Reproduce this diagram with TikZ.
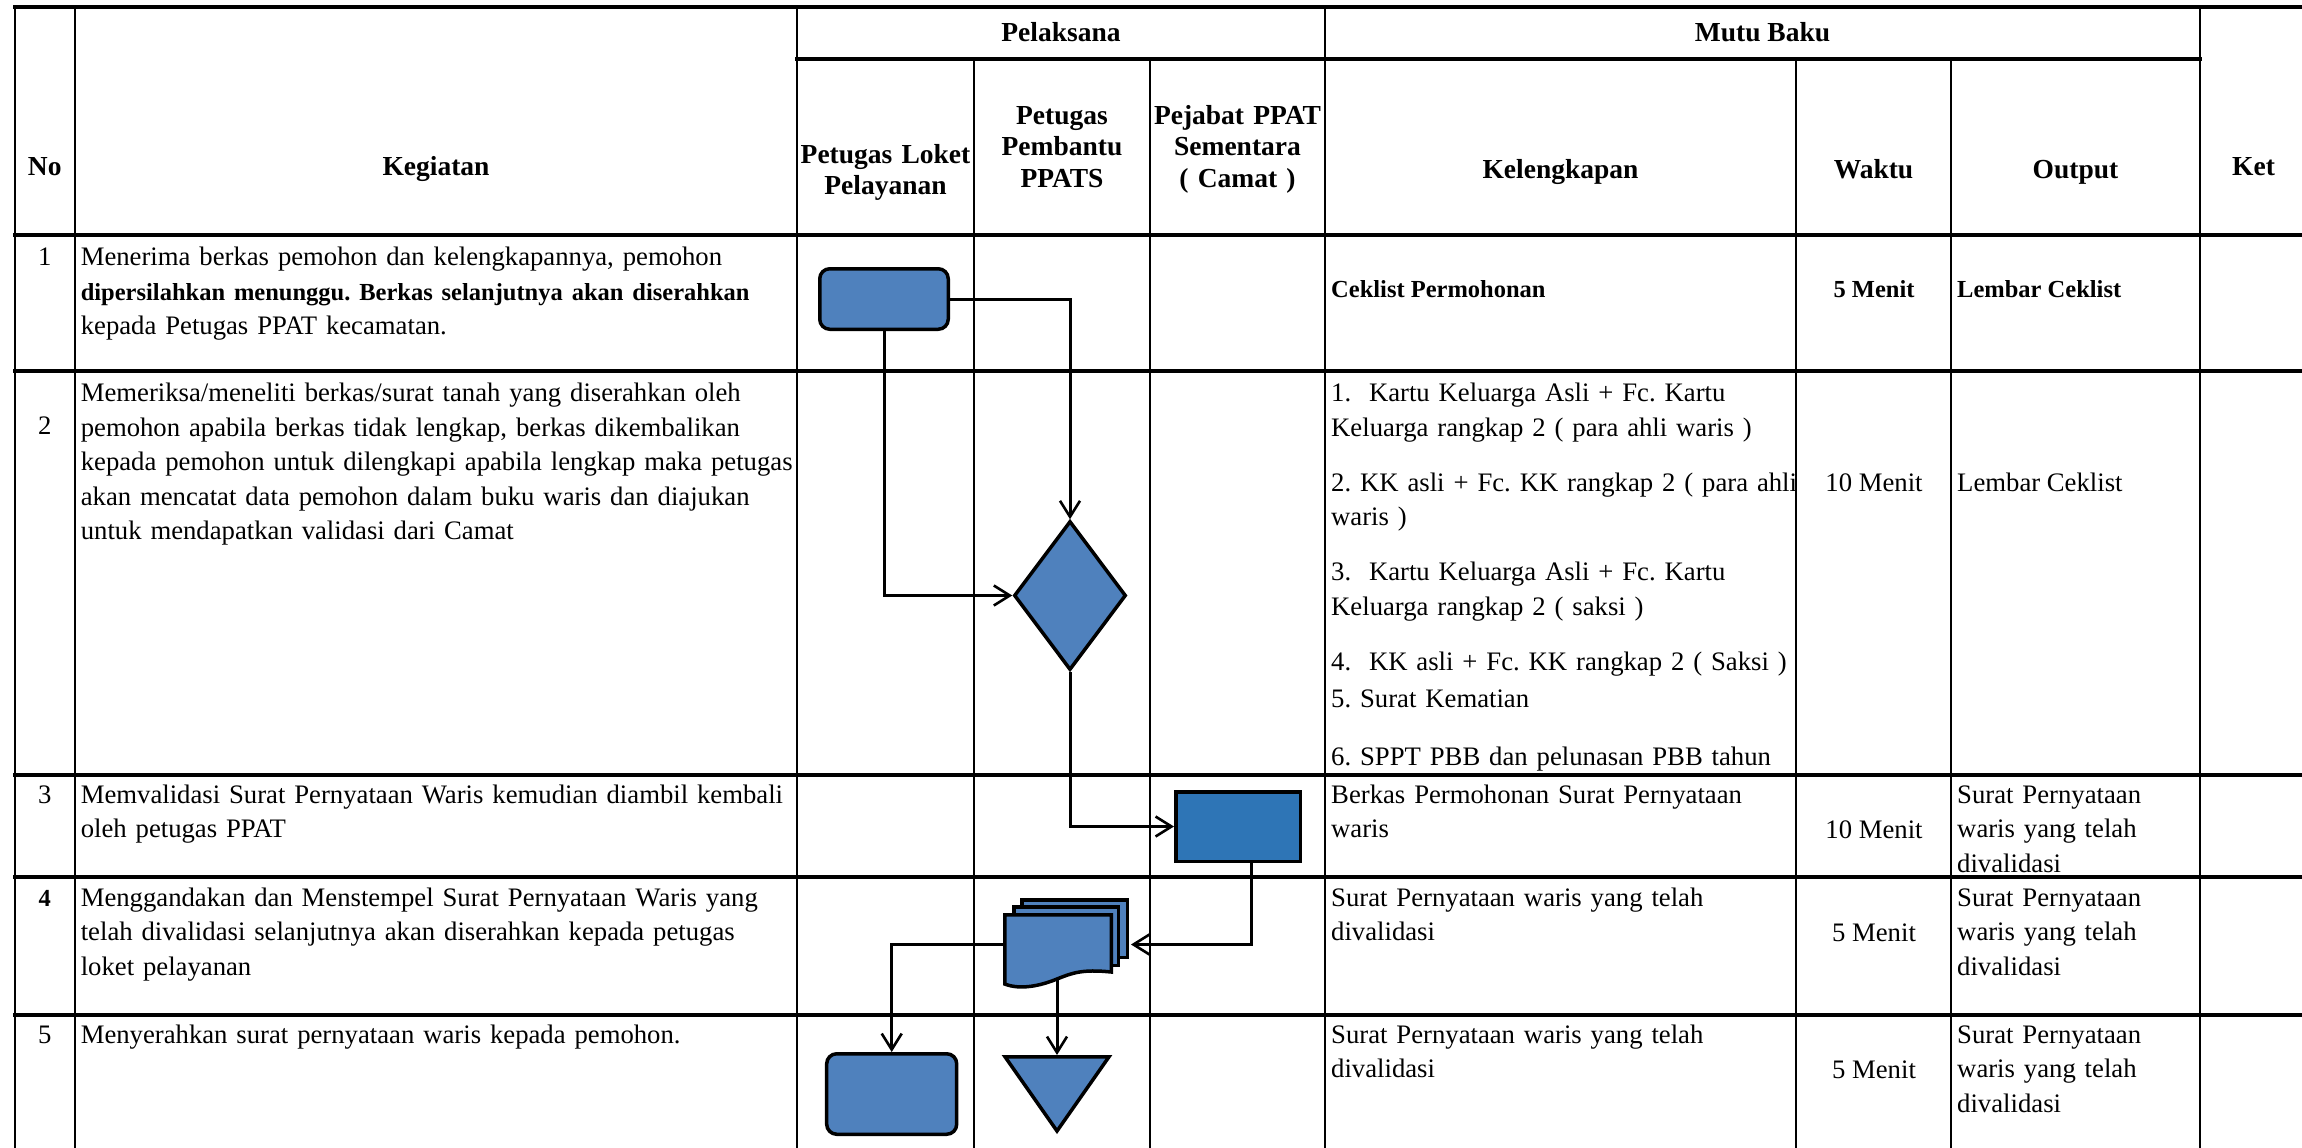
\documentclass[tikz,border=0pt]{standalone}
\usepackage{fontspec}
\setmainfont{Liberation Serif}
\usetikzlibrary{arrows.meta,shapes.geometric}

\definecolor{shapeblue}{HTML}{4F81BD}
\definecolor{procblue}{HTML}{2E75B6}

\newcommand\bfb{\fontsize{24.5}{34.5}\selectfont\bfseries}
\newcommand\rgb{\fontsize{26.7}{34.5}\selectfont}

\begin{document}
\begin{tikzpicture}[x=1pt,y=-1pt,
  hline/.style={line width=3.3pt, line cap=rect},
  vline/.style={line width=2.1pt, line cap=rect},
  cell/.style={inner sep=0pt, anchor=north west, text width=#1, align=left,
    font=\rgb\frenchspacing},
  cell/.default=740pt,
  word/.style={inner sep=0pt, anchor=base west, font=\rgb\frenchspacing},
  bword/.style={inner sep=0pt, anchor=base west, font=\bfb\frenchspacing},
  num/.style={inner sep=0pt, anchor=base, font=\rgb},
  head/.style={inner sep=0pt, anchor=base, font=\fontsize{27.5}{31.5}\selectfont\bfseries},
  headml/.style={inner sep=0pt, anchor=north, text width=200pt, align=center,
    font=\fontsize{27.5}{31.5}\selectfont\bfseries},
  blueshape/.style={draw=black, line width=3.5pt, fill=shapeblue},
  flow/.style={draw=black, line width=3pt,
    -{Straight Barb[length=16pt,width=20pt,line width=2.6pt]}},
]
\useasboundingbox (0,0) rectangle (2302,1148);

% ---- table grid ----
\draw[hline] (15,7) -- (2302,7);
\draw[hline] (797,59) -- (2200,59);
\foreach \y in {235,371,775,877,1015} \draw[hline] (15,\y) -- (2302,\y);
\foreach \x in {15,74.6,797,1325,2200} \draw[vline] (\x,7) -- (\x,1148);
\foreach \x in {974,1150,1796,1951} \draw[vline] (\x,59) -- (\x,1148);

% ---- header ----
\node[head] (hNo) at (44.8,175) {No};
\node[head] (hKeg) at (436,175) {Kegiatan};
\node[head] (hPel) at (1061,42) {Pelaksana};
\node[head] (hMutu) at (1762.5,42) {Mutu Baku};
\node[headml] (hLoket) at (885.5,141) {\strut Petugas Loket\\Pelayanan};
\node[headml] (hPembantu) at (1062,102) {\strut Petugas\\Pembantu\\PPATS};
\node[headml] (hCamat) at (1237.5,102) {\strut Pejabat PPAT\\Sementara\\( Camat )};
\node[head] (hKel) at (1560.5,178) {Kelengkapan};
\node[head] (hWaktu) at (1873.5,178) {Waktu};
\node[head] (hOut) at (2075.5,178) {Output};
\node[head] (hKet) at (2253.5,175) {Ket};

% ---- row numbers ----
\node[num] (n1) at (44.8,265.5) {1};
\node[num] (n2) at (44.8,434) {2};
\node[num] (n3) at (44.8,803) {3};
\node[num, font=\bfb] (n4) at (44.8,906) {4};
\node[num] (n5) at (44.8,1043) {5};

% ---- kegiatan ----
\node[cell] (k1) at (80.6,241.4) {\strut Menerima berkas pemohon dan kelengkapannya, pemohon\\
  {\bfb dipersilahkan menunggu. Berkas selanjutnya akan diserahkan}\\
  kepada Petugas PPAT kecamatan.};
\node[cell] (k2) at (80.6,377.5) {\strut Memeriksa/meneliti berkas/surat tanah yang diserahkan oleh\\
  pemohon apabila berkas tidak lengkap, berkas dikembalikan\\
  kepada pemohon untuk dilengkapi apabila lengkap maka petugas\\
  akan mencatat data pemohon dalam buku waris dan diajukan\\
  untuk mendapatkan validasi dari Camat};
\node[cell] (k3) at (80.6,778.9) {\strut Memvalidasi Surat Pernyataan Waris kemudian diambil kembali\\
  oleh petugas PPAT};
\node[cell] (k4) at (80.6,881.9) {\strut Menggandakan dan Menstempel Surat Pernyataan Waris yang\\
  telah divalidasi selanjutnya akan diserahkan kepada petugas\\
  loket pelayanan};
\node[cell] (k5) at (80.6,1018.9) {\strut Menyerahkan surat pernyataan waris kepada pemohon.};

% ---- kelengkapan ----
\node[bword] (l1) at (1331,297) {Ceklist Permohonan};
\node[cell=600pt] (l2) at (1331,377.5) {\strut 1.\ \ Kartu Keluarga Asli + Fc. Kartu\\
  Keluarga rangkap 2 ( para ahli waris )\\[20.5pt]
  2. KK asli + Fc. KK rangkap 2 ( para ahli\\
  waris )\\[20.5pt]
  3.\ \ Kartu Keluarga Asli + Fc. Kartu\\
  Keluarga rangkap 2 ( saksi )\\[20.5pt]
  4.\ \ KK asli + Fc. KK rangkap 2 ( Saksi )\\[2.5pt]
  5. Surat Kematian\\[23.5pt]
  6. SPPT PBB dan pelunasan PBB tahun};
\node[cell=600pt] (l3) at (1331,778.9) {\strut Berkas Permohonan Surat Pernyataan\\waris};
\node[cell=600pt] (l4) at (1331,881.9) {\strut Surat Pernyataan waris yang telah\\divalidasi};
\node[cell=600pt] (l5) at (1331,1018.9) {\strut Surat Pernyataan waris yang telah\\divalidasi};

% ---- waktu ----
\node[num, font=\bfb] (w1) at (1874,297) {5 Menit};
\node[num] (w2) at (1874,491) {10 Menit};
\node[num] (w3) at (1874,838) {10 Menit};
\node[num] (w4) at (1874,941) {5 Menit};
\node[num] (w5) at (1874,1078) {5 Menit};

% ---- output ----
\node[bword] (o1) at (1957,297) {Lembar Ceklist};
\node[word] (o2) at (1957,491) {Lembar Ceklist};
\node[cell=300pt] (o3) at (1957,778.9) {\strut Surat Pernyataan\\waris yang telah\\divalidasi};
\node[cell=300pt] (o4) at (1957,881.9) {\strut Surat Pernyataan\\waris yang telah\\divalidasi};
\node[cell=300pt] (o5) at (1957,1018.9) {\strut Surat Pernyataan\\waris yang telah\\divalidasi};

% ---- flowchart symbols ----
\node[blueshape, rounded corners=10pt, minimum width=128.5pt, minimum height=60.5pt,
  inner sep=0pt] (start) at (884,299) {};
\node[blueshape, diamond, minimum width=112pt, minimum height=149pt,
  inner sep=0pt] (check) at (1070,595.5) {};
\node[blueshape, fill=procblue, minimum width=124.5pt, minimum height=69.5pt,
  inner sep=0pt] (valid) at (1238,826.5) {};
\node[blueshape, rounded corners=10pt, minimum width=130pt, minimum height=80.5pt,
  inner sep=0pt] (hand) at (891.7,1094) {};

% stacked documents
\draw[blueshape] (1021.75,899.75) rectangle (1127.25,957.25);
\draw[blueshape] (1013.75,906.75) rectangle (1118.25,965.25);
\draw[blueshape] (1004.75,914.75) -- (1111.25,914.75) -- (1111.25,972)
  .. controls (1082,969) and (1072,973) .. (1057,979)
  .. controls (1040,986) and (1020,990) .. (1004.75,984) -- cycle;
\node[minimum width=128pt, minimum height=89pt, inner sep=0pt, outer sep=0pt]
  (docs) at (1067,944.5) {};
\coordinate (docsbot) at (1057,980);

% archive triangle
\draw[blueshape, line join=miter] (1005,1056.75) -- (1109,1056.75) -- (1057,1131) -- cycle;
\coordinate (archtop) at (1057,1055);

% ---- connectors ----
\draw[flow] (start.east) -| (check.north);
\draw[flow] (start.south) |- (check.west);
\draw[flow] (check.south) |- (valid.west);
\draw[flow] ([xshift=13pt]valid.south) |- (docs.east);
\draw[flow] (docs.west) -| (hand.north);
\draw[flow] (docsbot) -- (archtop);
\end{tikzpicture}
\end{document}
